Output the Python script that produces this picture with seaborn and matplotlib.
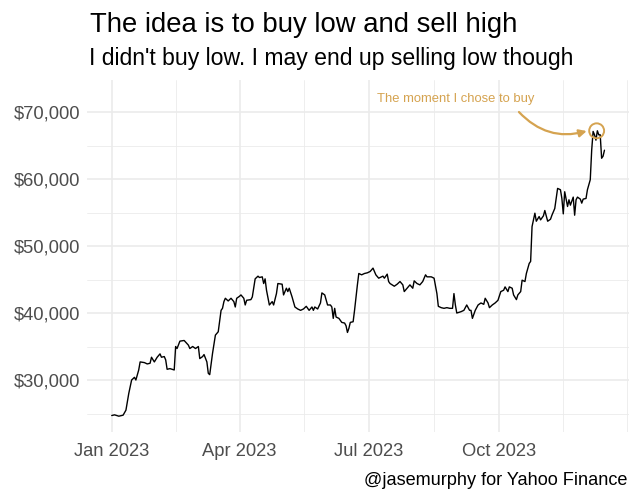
import numpy as np
import pandas as pd
import matplotlib
matplotlib.use("Agg")
import matplotlib.pyplot as plt
import matplotlib.dates as mdates
from matplotlib.ticker import FuncFormatter, FixedLocator
import seaborn as sns

# ---------------- data ----------------
start_date = "2023-01-01"
day_offsets = [
    0, 2, 5, 8, 10, 12, 14, 16, 17, 19, 20, 23, 25, 27, 28, 30, 32, 34, 35, 37,
    38, 39, 41, 44, 45, 46, 48, 51, 54, 55, 57, 59, 61, 62, 64, 65, 67, 68, 69, 71,
    73, 75, 77, 78, 79, 80, 82, 84, 86, 87, 88, 90, 91, 93, 94, 95, 98, 99, 101, 103,
    104, 106, 107, 108, 109, 111, 113, 114, 116, 117, 120, 121, 123, 124, 125, 127, 129, 131, 133, 135,
    137, 139, 141, 142, 143, 145, 147, 148, 150, 152, 154, 155, 156, 157, 158, 160, 162, 164, 165, 166,
    167, 168, 170, 171, 173, 174, 176, 178, 180, 182, 184, 186, 188, 191, 192, 194, 195, 196, 199, 201,
    203, 205, 206, 208, 210, 212, 213, 215, 217, 219, 221, 222, 225, 227, 229, 230, 232, 234, 236, 238,
    240, 241, 242, 243, 246, 248, 250, 252, 253, 254, 256, 258, 260, 262, 263, 265, 266, 268, 270, 271,
    272, 274, 276, 277, 279, 280, 282, 283, 285, 286, 288, 289, 291, 292, 294, 295, 296, 298, 299, 301,
    302, 304, 305, 307, 309, 310, 312, 313, 314, 316, 317, 318, 319, 321, 322, 323, 325, 326, 327, 328,
    330, 331, 332, 334, 335, 337, 338, 339, 340, 341, 342, 343, 344, 345, 346, 347,
]
prices = [
    24700, 24800, 24600, 24750, 25500, 28000, 30000, 30400, 30000, 31500, 32700, 32600, 32400, 32500, 33400, 32700, 33400, 33900, 33400, 33500,
    33000, 31600, 31700, 31500, 35000, 34700, 35800, 35900, 35200, 34700, 35000, 34700, 35000, 33200, 33500, 33800, 32700, 31000, 30800, 34000,
    36700, 37200, 40400, 40700, 41700, 42200, 41800, 42200, 41700, 40900, 42200, 42500, 42700, 42200, 41200, 41900, 42000, 42400, 45100, 45500,
    45300, 45400, 44400, 45100, 43400, 41200, 41700, 41200, 42900, 44400, 44300, 42700, 43700, 43200, 43700, 42400, 40900, 40600, 40400, 40600,
    41000, 40400, 40900, 40400, 40900, 40600, 41500, 43000, 42700, 41200, 41200, 40900, 39200, 40700, 39400, 39200, 38600, 38500, 38100, 37100,
    37700, 38600, 38700, 40400, 44200, 45900, 45700, 45900, 46000, 46200, 46700, 45700, 45200, 45500, 45200, 45800, 44700, 44400, 44000, 44300,
    44700, 44200, 43200, 43700, 44200, 43700, 44800, 44400, 44200, 44700, 45700, 45400, 45400, 45200, 42900, 41000, 40800, 40700, 40800, 40700,
    40700, 42900, 41200, 40000, 40200, 40400, 41200, 40400, 40400, 39200, 40400, 41200, 41500, 41300, 42200, 41500, 40800, 41200, 41500, 41700,
    41900, 43200, 43400, 43900, 43200, 43900, 43700, 42700, 42000, 42700, 43200, 44900, 44700, 45900, 47400, 47700, 52900, 54900, 53700, 54400,
    53900, 54500, 55300, 53700, 54000, 54600, 55600, 57100, 58600, 58400, 57100, 54800, 58100, 55900, 56900, 56100, 57300, 54600, 56900, 57300,
    57000, 56400, 57000, 57100, 58400, 59900, 64300, 67100, 66600, 65800, 67200, 66600, 66600, 63100, 63400, 64300,
]

buy_date = "2023-12-08 12:00"
buy_price = 67200

title = "The idea is to buy low and sell high"
subtitle = "I didn't buy low. I may end up selling low though"
caption = "@jasemurphy for Yahoo Finance"
note_text = "The moment I chose to buy"
note_date = "2023-08-31 12:00"
note_price = 72000
arrow_from = ("2023-10-14 19:00", 70000)
arrow_to = ("2023-12-01 12:00", 67160)

y_major = [30000, 40000, 50000, 60000, 70000]
y_minor = [25000, 35000, 45000, 55000, 65000]
x_major = ["2023-01-01", "2023-04-01", "2023-07-01", "2023-10-01"]

# ---------------- build ----------------
base = pd.Timestamp(start_date)
dates = base + pd.to_timedelta(day_offsets, unit="D")
df = pd.DataFrame({"date": dates, "price": prices})

sns.set_theme(style="white")
plt.rcParams["font.family"] = ["Liberation Sans", "DejaVu Sans"]

W, H = 640, 501
fig = plt.figure(figsize=(W / 100, H / 100), dpi=100)
fig.patch.set_facecolor("white")
px_left, px_right, px_top, px_bottom = 87.1, 629.1, 80, 432
ax = fig.add_axes([px_left / W, 1 - px_bottom / H, (px_right - px_left) / W, (px_bottom - px_top) / H])
ax.set_facecolor("white")

grid_col = "#EBEBEB"
ax.set_axisbelow(True)

sns.lineplot(data=df, x="date", y="price", ax=ax, color="black", linewidth=1.0, zorder=3)

# limits (ggplot-like 5% expansion)
xmaj = [pd.Timestamp(d) for d in x_major]
span = (df["date"].max() - df["date"].min())
ax.set_xlim(df["date"].min() - span * 0.05, df["date"].max() + span * 0.05)
ax.set_ylim(22240, 74780)

# grid: majors and ggplot-style minor breaks
xmaj_num = [mdates.date2num(d) for d in xmaj]
step = xmaj_num[1] - xmaj_num[0]
ext = xmaj_num + [xmaj_num[-1] + step]
xmin_num = [(a + b) / 2 for a, b in zip(ext[:-1], ext[1:])] + [ext[-1]]

for v in xmin_num:
    ax.axvline(v, color=grid_col, lw=0.6, zorder=0)
for v in y_minor:
    ax.axhline(v, color=grid_col, lw=0.6, zorder=0)
for v in xmaj_num:
    ax.axvline(v, color=grid_col, lw=1.2, zorder=0)
for v in y_major:
    ax.axhline(v, color=grid_col, lw=1.2, zorder=0)

ax.xaxis.set_major_locator(FixedLocator(xmaj_num))
ax.xaxis.set_major_formatter(mdates.DateFormatter("%b %Y"))
ax.yaxis.set_major_locator(FixedLocator(y_major))
ax.yaxis.set_major_formatter(FuncFormatter(lambda v, p: f"${v:,.0f}"))
ax.tick_params(axis="both", length=0, labelsize=13.2, labelcolor="#4D4D4D")
ax.tick_params(axis="x", pad=8)
ax.tick_params(axis="y", pad=5)
ax.set_xlabel("")
ax.set_ylabel("")
ax.grid(False)
for s in ax.spines.values():
    s.set_visible(False)

gold = "#D5A350"
ax.scatter([pd.Timestamp(buy_date)], [buy_price], s=115, facecolors="none",
           edgecolors=gold, linewidths=1.4, zorder=4)
ax.text(pd.Timestamp(note_date), note_price, note_text, color=gold,
        fontsize=9.4, ha="center", va="center")
ax.annotate("", xy=(pd.Timestamp(arrow_to[0]), arrow_to[1]),
            xytext=(pd.Timestamp(arrow_from[0]), arrow_from[1]),
            arrowprops=dict(arrowstyle="-|>", color=gold, lw=1.6,
                            connectionstyle="arc3,rad=0.3",
                            shrinkA=0, shrinkB=0, mutation_scale=11),
            zorder=4)

fig.text(90 / W, 1 - 31.7 / H, title, fontsize=19.8, color="black", ha="left", va="baseline")
fig.text(89 / W, 1 - 65 / H, subtitle, fontsize=16.6, color="black", ha="left", va="baseline")
fig.text(627.5 / W, 1 - 485 / H, caption, fontsize=13.1, color="black", ha="right", va="baseline")

fig.savefig("out.png", dpi=100, facecolor="white")
